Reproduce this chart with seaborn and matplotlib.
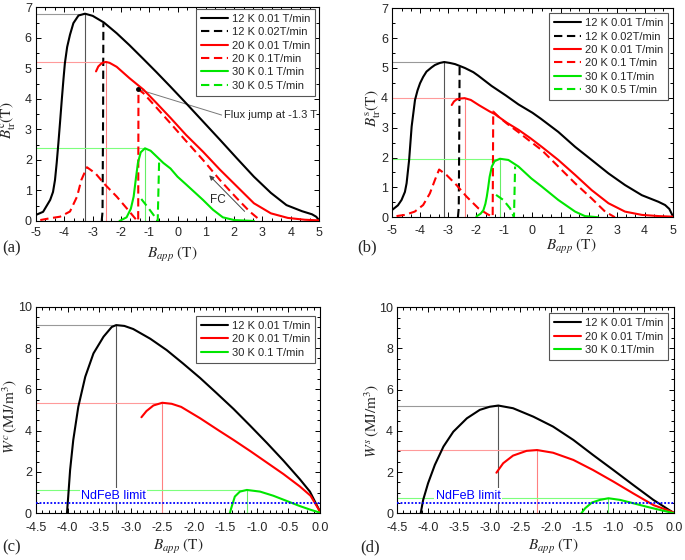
import numpy as np
import matplotlib
matplotlib.use("Agg")
import matplotlib.pyplot as plt
from matplotlib.ticker import AutoMinorLocator, MultipleLocator
import seaborn as sns

# ---------------- data: panel (a) B_tr^c ----------------
a_x_12_001 = [-5.0, -4.75, -4.5, -4.4, -4.33, -4.27, -4.21, -4.15, -4.09, -4.03, -3.98, -3.9, -3.8, -3.68, -3.5,
              -3.27, -3.0, -2.6, -2.15, -1.7, -1.2, -0.75, -0.25, 0.3, 0.9, 1.5, 2.1, 2.7, 3.3, 3.85, 4.4, 4.75, 4.9, 5.0]
a_y_12_001 = [0.2, 0.3, 0.69, 0.95, 1.34, 1.9, 2.55, 3.25, 3.97, 4.65, 5.17, 5.7, 6.1, 6.48, 6.73,
              6.79, 6.72, 6.5, 6.15, 5.76, 5.3, 4.88, 4.4, 3.86, 3.26, 2.66, 2.05, 1.45, 0.92, 0.52, 0.32, 0.22, 0.14, 0.03]
a_x_12_002 = [-2.68, -2.65, -2.63, -2.62]
a_y_12_002 = [0.0, 0.3, 3.5, 6.48]
a_x_20_001 = [-2.88, -2.8, -2.7, -2.62, -2.53, -2.4, -2.15, -1.7, -1.2, -0.75, -0.25, 0.3, 0.9, 1.5, 2.1, 2.7, 3.3, 3.9, 4.5, 5.0]
a_y_20_001 = [4.9, 5.06, 5.15, 5.19, 5.21, 5.18, 5.05, 4.68, 4.3, 3.87, 3.38, 2.82, 2.27, 1.68, 1.13, 0.58, 0.25, 0.1, 0.04, 0.02]
a_x_20_01 = [-4.85, -4.5, -4.15, -3.8, -3.55, -3.4, -3.2, -2.9, -2.55, -2.15, -1.8, -1.45, -1.39, -1.38, -1.2, -0.75,
             -0.25, 0.3, 0.9, 1.5, 2.1, 2.55, 2.95]
a_y_20_01 = [0.03, 0.09, 0.14, 0.31, 0.8, 1.34, 1.76, 1.56, 1.18, 0.8, 0.42, 0.03, 0.0, 4.31, 4.18, 3.72,
             3.2, 2.62, 2.0, 1.34, 0.74, 0.31, 0.0]
a_x_30_01 = [-2.05, -1.8, -1.65, -1.55, -1.47, -1.4, -1.3, -1.15, -0.95, -0.5, -0.25, 0.0, 0.3, 0.9, 1.25, 1.6, 2.0, 2.7]
a_y_30_01 = [0.0, 0.12, 0.4, 0.8, 1.4, 1.9, 2.25, 2.38, 2.3, 1.9, 1.72, 1.45, 1.2, 0.69, 0.37, 0.12, 0.03, 0.0]
a_x_30_05 = [-1.28, -1.05, -0.85, -0.7, -0.65]
a_y_30_05 = [0.72, 0.45, 0.2, 0.0, 1.97]
a_labels = ["12 K 0.01 T/min", "12 K 0.02T/min", "20 K 0.01 T/min", "20 K 0.1T/min", "30 K 0.1 T/min", "30 K 0.5 T/min"]

# ---------------- data: panel (b) B_tr^s ----------------
b_x_12_001 = [-5.0, -4.8, -4.67, -4.55, -4.49, -4.4, -4.31, -4.19, -4.1, -4.01, -3.9, -3.78, -3.6, -3.48, -3.3,
              -3.15, -2.95, -2.76, -2.41, -2.11, -1.93, -1.46, -0.95, -0.5, 0.0, 0.3, 0.92, 1.52, 2.11, 2.71, 3.3,
              3.9, 4.49, 4.73, 4.88, 5.0]
b_y_12_001 = [0.25, 0.4, 0.58, 0.85, 1.14, 1.92, 3.04, 3.93, 4.25, 4.49, 4.7, 4.88, 5.02, 5.1, 5.17,
              5.2, 5.17, 5.13, 5.0, 4.86, 4.74, 4.4, 4.08, 3.78, 3.5, 3.3, 2.86, 2.36, 1.92, 1.47, 1.08,
              0.74, 0.52, 0.41, 0.28, 0.05]
b_x_12_002 = [-2.66, -2.63, -2.61, -2.6]
b_y_12_002 = [0.0, 0.3, 3.0, 5.04]
b_x_20_001 = [-2.88, -2.8, -2.7, -2.55, -2.42, -2.2, -1.9, -1.52, -1.35, -0.92, -0.5, -0.09, 0.33, 0.92, 1.52,
              2.11, 2.71, 3.3, 3.9, 4.5, 5.0]
b_y_20_001 = [3.76, 3.88, 3.95, 3.98, 3.99, 3.93, 3.75, 3.54, 3.46, 3.17, 2.93, 2.66, 2.36, 1.92, 1.42,
              0.91, 0.47, 0.19, 0.08, 0.04, 0.02]
b_x_20_01 = [-4.85, -4.55, -4.2, -3.9, -3.66, -3.48, -3.33, -3.07, -2.71, -2.35, -1.93, -1.6, -1.42, -1.4,
             -1.2, -0.9, -0.5, -0.09, 0.33, 0.92, 1.52, 2.11, 2.59, 2.94]
b_y_20_01 = [0.04, 0.08, 0.19, 0.41, 0.8, 1.25, 1.6, 1.42, 1.08, 0.69, 0.3, 0.1, 0.02, 3.54,
             3.36, 3.13, 2.85, 2.55, 2.25, 1.7, 1.14, 0.63, 0.19, 0.0]
b_x_30_01 = [-2.0, -1.85, -1.75, -1.68, -1.63, -1.58, -1.53, -1.45, -1.35, -1.16, -0.86, -0.5, -0.27, -0.04,
             0.33, 0.92, 1.52, 1.87, 2.35]
b_y_30_01 = [0.03, 0.12, 0.24, 0.45, 0.69, 1.0, 1.35, 1.7, 1.88, 1.96, 1.92, 1.7, 1.5, 1.3,
             1.03, 0.58, 0.19, 0.04, 0.0]
b_x_30_05 = [-1.3, -1.04, -0.8, -0.66, -0.62]
b_y_30_05 = [0.75, 0.58, 0.3, 0.0, 1.7]
b_labels = ["12 K 0.01 T/min", "12 K 0.02T/min", "20 K 0.01 T/min", "20 K 0.1 T/min", "30 K 0.1T/min", "30 K 0.5 T/min"]

# ---------------- data: panel (c) W^c ----------------
c_x_12 = [-4.01, -4.0, -3.99, -3.96, -3.91, -3.83, -3.72, -3.59, -3.43, -3.3, -3.23, -3.1, -2.96, -2.69, -2.43,
          -2.17, -1.9, -1.64, -1.37, -1.11, -0.84, -0.58, -0.32, -0.16, 0.0]
c_y_12 = [0.0, 0.4, 0.81, 2.1, 3.55, 5.16, 6.61, 7.74, 8.55, 9.02, 9.11, 9.07, 8.92, 8.45, 7.9,
          7.25, 6.55, 5.82, 5.05, 4.25, 3.4, 2.55, 1.65, 1.05, 0.08]
c_x_20 = [-2.83, -2.75, -2.64, -2.5, -2.35, -2.2, -1.9, -1.6, -1.37, -1.1, -0.84, -0.58, -0.32, -0.15, 0.0]
c_y_20 = [4.65, 4.95, 5.22, 5.35, 5.3, 5.15, 4.6, 4.0, 3.55, 3.0, 2.45, 1.9, 1.3, 0.85, 0.08]
c_x_30 = [-1.43, -1.4, -1.35, -1.27, -1.16, -0.95, -0.74, -0.53, -0.32, -0.15, 0.0]
c_y_30 = [0.0, 0.32, 0.81, 1.05, 1.13, 1.05, 0.85, 0.6, 0.35, 0.17, 0.03]
c_labels = ["12 K 0.01 T/min", "20 K 0.01 T/min", "30 K 0.1 T/min"]

# ---------------- data: panel (d) W^s ----------------
d_x_12 = [-4.12, -4.08, -4.0, -3.89, -3.75, -3.59, -3.37, -3.16, -3.0, -2.86, -2.62, -2.29, -1.97, -1.64,
          -1.32, -0.99, -0.67, -0.34, 0.0]
d_y_12 = [0.0, 0.65, 1.46, 2.35, 3.24, 3.96, 4.61, 5.02, 5.17, 5.23, 5.1, 4.69, 4.21, 3.56,
          2.83, 2.1, 1.38, 0.65, 0.0]
d_x_20 = [-2.89, -2.78, -2.62, -2.4, -2.23, -1.97, -1.64, -1.32, -0.99, -0.67, -0.34, 0.0]
d_y_20 = [1.97, 2.43, 2.8, 3.03, 3.07, 2.94, 2.59, 2.1, 1.54, 0.97, 0.4, 0.03]
d_x_30 = [-1.51, -1.45, -1.34, -1.21, -1.07, -0.88, -0.67, -0.45, -0.23, 0.0]
d_y_30 = [0.0, 0.24, 0.52, 0.65, 0.73, 0.65, 0.49, 0.32, 0.16, 0.0]
d_labels = ["12 K 0.01 T/min", "20 K 0.01 T/min", "30 K 0.1T/min"]

ndfeb_limit = 0.5

# ---------------- style ----------------
sns.set_theme(style="ticks")
plt.rcParams["font.family"] = ["Liberation Sans", "DejaVu Sans"]
plt.rcParams["mathtext.fontset"] = "stix"
plt.rcParams["axes.unicode_minus"] = False
plt.rcParams["axes.linewidth"] = 0.8
plt.rcParams["xtick.direction"] = "in"
plt.rcParams["ytick.direction"] = "in"

BLACK, RED, GREEN = "#000000", "#ff0000", "#00e600"
REF = {BLACK: ("#999999", "#555555"), RED: ("#ff9a9a", "#ff8080"), GREEN: ("#7dff7d", "#66ee66")}
DASH = (0, (4.0, 2.2))

fig = plt.figure(figsize=(6.85, 5.6), dpi=100)
axa = fig.add_axes([0.0526, 0.6054, 0.4131, 0.3816])
axb = fig.add_axes([0.5727, 0.6120, 0.4093, 0.3732])
axc = fig.add_axes([0.0526, 0.0834, 0.4146, 0.3689])
axd = fig.add_axes([0.5800, 0.0834, 0.4044, 0.3679])


def curve(ax, x, y, color, dashed=False, label=None, lw=1.5):
    sns.lineplot(x=x, y=y, ax=ax, sort=False, estimator=None, color=color, lw=lw,
                 linestyle=DASH if dashed else "-", label=label, legend=False, zorder=3)


def peak_ref(ax, x, y, color, xmin):
    i = int(np.argmax(y))
    hc, vc = REF[color]
    ax.plot([xmin, x[i]], [y[i], y[i]], color=hc, lw=0.8, zorder=1)
    ax.plot([x[i], x[i]], [0, y[i]], color=vc, lw=0.8, zorder=1)


def style_axes(ax, xlim, ylim, xmaj, xminor_n, ymaj, yminor_n, xpad, xfmt=None):
    ax.set_xlim(*xlim)
    ax.set_ylim(*ylim)
    ax.xaxis.set_major_locator(MultipleLocator(xmaj))
    ax.yaxis.set_major_locator(MultipleLocator(ymaj))
    ax.xaxis.set_minor_locator(AutoMinorLocator(xminor_n))
    ax.yaxis.set_minor_locator(AutoMinorLocator(yminor_n))
    ax.tick_params(which="both", top=True, right=True, direction="in", labelsize=9, color="black", width=0.7)
    ax.tick_params(which="major", length=3.5)
    ax.tick_params(which="minor", length=2)
    ax.tick_params(axis="x", which="major", pad=xpad)
    ax.tick_params(axis="y", which="major", pad=3)
    for s in ax.spines.values():
        s.set_color("black")
        s.set_visible(True)
    if xfmt:
        ax.set_xticks(ax.get_xticks())
        ax.set_xticklabels([xfmt.format(t) for t in ax.get_xticks()])
        ax.set_xlim(*xlim)


def legend(ax, anchor):
    leg = ax.legend(loc="upper right", bbox_to_anchor=anchor, borderaxespad=0, fontsize=8,
                    frameon=True, fancybox=False, edgecolor="#555555", framealpha=1,
                    handlelength=2.4, handletextpad=0.35, labelspacing=0.3, borderpad=0.45)
    leg.get_frame().set_linewidth(0.8)


# ---------------- panel (a) ----------------
peak_ref(axa, a_x_12_001, a_y_12_001, BLACK, -5)
peak_ref(axa, a_x_20_001, a_y_20_001, RED, -5)
peak_ref(axa, a_x_30_01, a_y_30_01, GREEN, -5)
curve(axa, a_x_12_001, a_y_12_001, BLACK, label=a_labels[0])
curve(axa, a_x_12_002, a_y_12_002, BLACK, dashed=True, label=a_labels[1])
curve(axa, a_x_20_001, a_y_20_001, RED, label=a_labels[2])
curve(axa, a_x_20_01, a_y_20_01, RED, dashed=True, label=a_labels[3])
curve(axa, a_x_30_01, a_y_30_01, GREEN, label=a_labels[4])
curve(axa, a_x_30_05, a_y_30_05, GREEN, dashed=True, label=a_labels[5])
axa.plot([-1.38, 1.56], [4.31, 3.47], color="#777777", lw=0.7, zorder=2)
axa.plot([-1.38], [4.31], "o", color="black", ms=2.5, zorder=4)
axa.text(1.64, 3.47, "Flux jump at -1.3 T", fontsize=8, va="center", ha="left")
axa.annotate("", xy=(1.05, 1.56), xytext=(2.44, 0.25),
             arrowprops=dict(arrowstyle="-|>", color="#444444", lw=0.7, mutation_scale=7))
axa.text(1.44, 0.69, "FC", fontsize=8.5, va="center", ha="center")
style_axes(axa, (-5, 5), (0, 7), 1, 3, 1, 2, xpad=4)
legend(axa, (0.986, 0.992))
axa.set_xlabel(r"$B_{app}\ (\mathrm{T})$", fontsize=11)
axa.xaxis.set_label_coords(0.482, -0.159)
axa.xaxis.label.set_va("center")
axa.set_ylabel(r"$B_{\mathrm{tr}}^{\mathrm{c}}(\mathrm{T})$", fontsize=11)
axa.yaxis.set_label_coords(-0.097, 0.47)
axa.yaxis.label.set_va("center")

# ---------------- panel (b) ----------------
peak_ref(axb, b_x_12_001, b_y_12_001, BLACK, -5)
peak_ref(axb, b_x_20_001, b_y_20_001, RED, -5)
peak_ref(axb, b_x_30_01, b_y_30_01, GREEN, -5)
curve(axb, b_x_12_001, b_y_12_001, BLACK, label=b_labels[0])
curve(axb, b_x_12_002, b_y_12_002, BLACK, dashed=True, label=b_labels[1])
curve(axb, b_x_20_001, b_y_20_001, RED, label=b_labels[2])
curve(axb, b_x_20_01, b_y_20_01, RED, dashed=True, label=b_labels[3])
curve(axb, b_x_30_01, b_y_30_01, GREEN, label=b_labels[4])
curve(axb, b_x_30_05, b_y_30_05, GREEN, dashed=True, label=b_labels[5])
style_axes(axb, (-5, 5), (0, 7), 1, 3, 1, 2, xpad=5.5)
legend(axb, (0.984, 0.976))
axb.set_xlabel(r"$B_{app}\ (\mathrm{T})$", fontsize=11)
axb.xaxis.set_label_coords(0.64, -0.141)
axb.xaxis.label.set_va("center")
axb.set_ylabel(r"$B_{\mathrm{tr}}^{\mathrm{s}}(\mathrm{T})$", fontsize=11)
axb.yaxis.set_label_coords(-0.069, 0.52)
axb.yaxis.label.set_va("center")

# ---------------- panels (c), (d) ----------------
for ax, xs, ys, labels, tx in [
    (axc, (c_x_12, c_x_20, c_x_30), (c_y_12, c_y_20, c_y_30), c_labels, -3.27),
    (axd, (d_x_12, d_x_20, d_x_30), (d_y_12, d_y_20, d_y_30), d_labels, -3.35),
]:
    for x, y, col in zip(xs, ys, (BLACK, RED, GREEN)):
        peak_ref(ax, x, y, col, -4.5)
    for x, y, col, lab in zip(xs, ys, (BLACK, RED, GREEN), labels):
        curve(ax, x, y, col, label=lab)
    ax.axhline(ndfeb_limit, color="#0000ff", ls=(0, (1, 1)), lw=1.3, zorder=4)
    ax.text(tx, 0.86, "NdFeB limit", color="#0000ff", fontsize=9, ha="center", va="center", zorder=2.5,
            bbox=dict(facecolor="white", edgecolor="none", pad=1.0))
    style_axes(ax, (-4.5, 0), (0, 10), 0.5, 5, 2, 4, xpad=6.5, xfmt="{:.1f}")

legend(axc, (0.982, 0.955))
axc.set_xlabel(r"$B_{app}\ (\mathrm{T})$", fontsize=11)
axc.xaxis.set_label_coords(0.501, -0.162)
axc.xaxis.label.set_va("center")
axc.set_ylabel(r"$W^{c}\,(\mathrm{MJ/m^{3}})$", fontsize=11)
axc.yaxis.set_label_coords(-0.092, 0.47)
axc.yaxis.label.set_va("center")

legend(axd, (0.978, 0.971))
axd.set_xlabel(r"$B_{app}\ (\mathrm{T})$", fontsize=11)
axd.xaxis.set_label_coords(0.563, -0.162)
axd.xaxis.label.set_va("center")
axd.set_ylabel(r"$W^{s}\,(\mathrm{MJ/m^{3}})$", fontsize=11)
axd.yaxis.set_label_coords(-0.092, 0.45)
axd.yaxis.label.set_va("center")

# panel letters
for txt, x, y in [("(a)", 0.003, 0.557), ("(b)", 0.521, 0.559), ("(c)", 0.003, 0.023), ("(d)", 0.526, 0.023)]:
    fig.text(x, y, txt, fontsize=12, family=["Liberation Serif", "DejaVu Serif"], ha="left", va="center")

fig.savefig("out.png", dpi=100, facecolor="white")
